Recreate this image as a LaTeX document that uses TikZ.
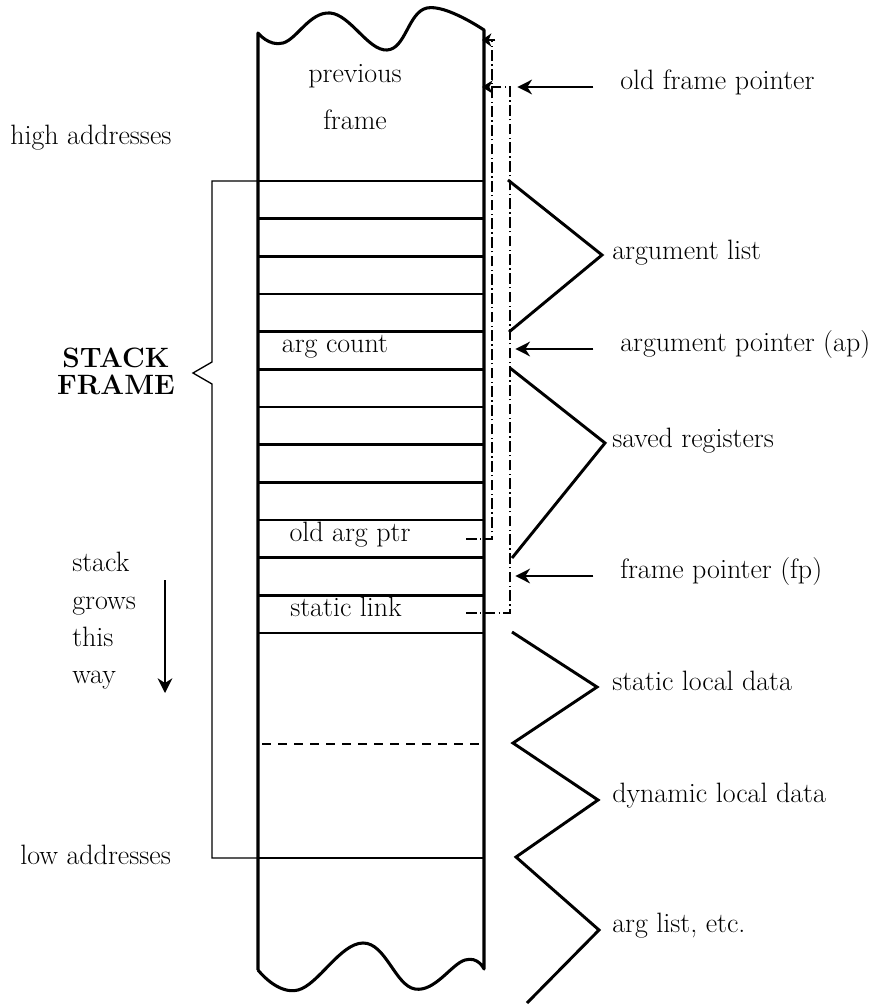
\documentclass[tikz,border=0pt]{standalone}
\usepackage{tikz}
\usetikzlibrary{arrows.meta,positioning,calc}

\tikzset{
  lbl/.style={inner sep=0pt, anchor=mid, font=\fontsize{21}{25}\selectfont},
  wall/.style={line width=2.3pt, line join=round},
  rowline/.style={line width=2pt},
  zig/.style={line width=2.2pt, line join=miter},
  link/.style={line width=1pt, dash pattern=on 8pt off 2.5pt on 1pt off 2.5pt,
    -{Stealth[length=8pt,width=10pt,inset=2.5pt]}},
  ptr/.style={line width=1.6pt, -{Stealth[length=11pt,width=11pt,inset=3.5pt]}},
}

\begin{document}
\begin{tikzpicture}[x=0.75pt, y=-0.75pt]
    \useasboundingbox (0,0) rectangle (890,1006);

    % Stack column with torn ends
    \draw[wall] (258,970) -- (258,33)
      -- plot[smooth, tension=0.7] coordinates {(258,33) (283,43) (330,13) (387,50) (427,8) (484,30)}
      -- (484,969)
      -- plot[smooth, tension=0.7] coordinates {(484,969) (465,960) (415,989) (363,943) (298,990) (258,970)};

    % Slots of the frame
    \foreach \k in {0,...,12}
      \draw[rowline] (258,{181+37.67*\k}) -- (484,{181+37.67*\k});
    \draw[dashed, dash pattern=on 7pt off 5pt, line width=1pt] (262,744) -- (482,744);
    \draw[rowline] (258,858) -- (484,858);

    % Brace round the frame
    \draw[line width=1pt] (258,181) -- (212,181) -- (212,362) -- (193,373) -- (212,384) -- (212,858) -- (258,858);

    % Texts in the column
    \node[lbl] (prev) at (355,80) {previous};
    \node[lbl] (prevb) at (355,127) {frame};
    \node[lbl] (argc) at (335,350) {arg count};
    \node[lbl] (oldap) at (350,539) {old arg ptr};
    \node[lbl] (slink) at (346,614) {static link};

    % Left side
    \node[lbl, anchor=mid west] (high) at (10,142) {high addresses};
    \node[lbl, anchor=mid west] (low) at (20,862) {low addresses};
    \node[inner sep=0pt, anchor=north, align=center, font=\fontsize{21}{20}\selectfont\bfseries]
      (frame) at (116,348) {STACK\\FRAME};
    \node[inner sep=0pt, anchor=north west, align=left, font=\fontsize{21}{28}\selectfont]
      (grow) at (72,552) {stack\\grows\\this\\way};
    \coordinate (growtop) at (165,580);
    \coordinate (growbot) at (165,693);
    \draw[ptr] (growtop) -- (growbot);

    % Right side labels
    \node[lbl, anchor=mid west] (ofp) at (620,87) {old frame pointer};
    \node[lbl, anchor=mid west] (alist) at (612,257) {argument list};
    \node[lbl, anchor=mid west] (ap) at (620,349) {argument pointer (ap)};
    \node[lbl, anchor=mid west] (sregs) at (612,445) {saved registers};
    \node[lbl, anchor=mid west] (fp) at (620,576) {frame pointer (fp)};
    \node[lbl, anchor=mid west] (sdata) at (612,688) {static local data};
    \node[lbl, anchor=mid west] (ddata) at (612,800) {dynamic local data};
    \node[lbl, anchor=mid west] (next) at (612,930) {arg list, etc.};

    % Pointer arrows
    \draw[ptr] ([xshift=-20pt]ofp.mid west) -- ++(-76,0);
    \draw[ptr] ([xshift=-20pt]ap.mid west) -- ++(-78,0);
    \draw[ptr] ([xshift=-20pt]fp.mid west) -- ++(-78,0);

    % Saved pointers
    \coordinate (oapout) at (466,539);
    \coordinate (slout) at (466,613);
    \coordinate (prevtop) at (482,40);
    \coordinate (prevmid) at (482,87);
    \draw[link, -] (oapout) -- ++(26,0) |- (prevtop);
    \draw[line width=1pt, -{Stealth[length=7pt,width=10pt,inset=2pt]}] ([xshift=10pt]prevtop) -- (prevtop);
    \draw[link] (slout) -- ++(44,0) |- (prevmid);

    % Zigzag markers
    \draw[zig] (508,180) -- (602,255) -- (509,332);
    \draw[zig] (510,368) -- (605,443) -- (512,558);
    \draw[zig] (512,632) -- (597,687) -- (513,743) -- (598,800) -- (516,857) -- (599,930) -- (527,1003);
\end{tikzpicture}
\end{document}
